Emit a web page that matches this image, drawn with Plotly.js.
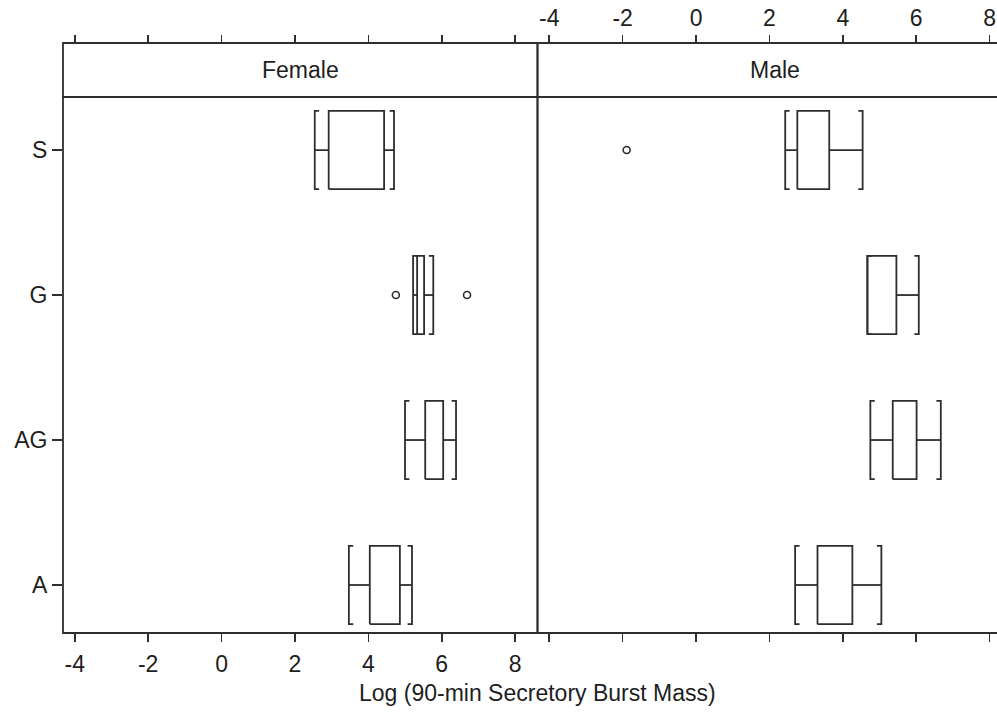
<!DOCTYPE html>
<html>
<head>
<meta charset="utf-8">
<script src="https://cdn.plot.ly/plotly-3.0.1.min.js"></script>
<style>
  html, body { margin: 0; padding: 0; background: #fff; overflow: hidden; }
  #chart { width: 1015px; height: 715px; }
</style>
</head>
<body>
<div id="chart"></div>
<script>
// ---- data ----
var categories = ['A', 'AG', 'G', 'S'];
var tickValues = [-4, -2, 0, 2, 4, 6, 8];

var femaleLow  = [3.47, 5.00, 5.22, 2.54];
var femaleQ1   = [4.04, 5.55, 5.33, 2.92];
var femaleQ3   = [4.86, 6.04, 5.52, 4.43];
var femaleHigh = [5.19, 6.39, 5.77, 4.70];

var maleLow  = [2.70, 4.75, 4.67, 2.43];
var maleQ1   = [3.31, 5.36, 4.67, 2.76];
var maleQ3   = [4.26, 6.01, 5.46, 3.63];
var maleHigh = [5.05, 6.67, 6.07, 4.54];

var femaleOutX   = [4.75, 6.69];
var femaleOutCat = ['G', 'G'];
var maleOutX   = [-1.89];
var maleOutCat = ['S'];

var panelNames = ['Female', 'Male'];
var xTitle = 'Log (90-min Secretory Burst Mass)';

// ---- styling ----
var INK = '#2e2e2e';
var LINE_W = 1.8;
var FONT = {family: 'Liberation Sans, Arial, Helvetica, sans-serif', size: 23, color: '#1e1e1e'};
var HALF = 0.27;   // half box height in category units
var TICKX = 0.12;  // bracket inner tick length in x units
var XRANGE = [-4.32, 8.61];
var YRANGE = [-0.331, 3.366];
var PANEL_TOP = 536 / 590;

function buildPath(lo, q1, q3, hi) {
  var xs = [], ys = [];
  function seg(px, py) { xs.push.apply(xs, px); ys.push.apply(ys, py); xs.push(null); ys.push(null); }
  for (var i = 0; i < categories.length; i++) {
    var c = i, t = c + HALF, b = c - HALF;
    seg([q1[i], q3[i], q3[i], q1[i], q1[i]], [b, b, t, t, b]);
    seg([lo[i], q1[i]], [c, c]);
    seg([q3[i], hi[i]], [c, c]);
    seg([lo[i] + TICKX, lo[i], lo[i], lo[i] + TICKX], [t, t, b, b]);
    seg([hi[i] - TICKX, hi[i], hi[i], hi[i] - TICKX], [t, t, b, b]);
  }
  return {x: xs, y: ys};
}

function catIndex(arr) { return arr.map(function (c) { return categories.indexOf(c); }); }

var fp = buildPath(femaleLow, femaleQ1, femaleQ3, femaleHigh);
var mp = buildPath(maleLow, maleQ1, maleQ3, maleHigh);

var traces = [
  {type: 'scatter', mode: 'lines', x: fp.x, y: fp.y, xaxis: 'x', yaxis: 'y',
   line: {color: INK, width: LINE_W}, connectgaps: false, hoverinfo: 'skip', showlegend: false},
  {type: 'scatter', mode: 'lines', x: mp.x, y: mp.y, xaxis: 'x2', yaxis: 'y',
   line: {color: INK, width: LINE_W}, connectgaps: false, hoverinfo: 'skip', showlegend: false},
  {type: 'scatter', mode: 'markers', x: femaleOutX, y: catIndex(femaleOutCat), xaxis: 'x', yaxis: 'y',
   marker: {symbol: 'circle-open', size: 7, color: INK, line: {width: 1.6}}, showlegend: false},
  {type: 'scatter', mode: 'markers', x: maleOutX, y: catIndex(maleOutCat), xaxis: 'x2', yaxis: 'y',
   marker: {symbol: 'circle-open', size: 7, color: INK, line: {width: 1.6}}, showlegend: false},
  {type: 'scatter', mode: 'markers', x: [0], y: [-5], xaxis: 'x3', yaxis: 'y',
   marker: {opacity: 0}, hoverinfo: 'skip', showlegend: false},
  {type: 'scatter', mode: 'markers', x: [0], y: [-5], xaxis: 'x4', yaxis: 'y',
   marker: {opacity: 0}, hoverinfo: 'skip', showlegend: false}
];

function xAxis(domain, opts) {
  var a = {
    domain: domain, range: XRANGE.slice(), tickmode: 'array', tickvals: tickValues,
    ticktext: tickValues.map(String), ticks: 'outside', ticklen: 8, tickwidth: 1.6, tickcolor: INK,
    showline: false, showgrid: false, zeroline: false, tickfont: FONT, fixedrange: true
  };
  for (var k in opts) a[k] = opts[k];
  return a;
}

var shapes = [];
[[0, 0.5], [0.5, 1]].forEach(function (d) {
  shapes.push({type: 'rect', xref: 'paper', yref: 'paper', x0: d[0], x1: d[1], y0: 0, y1: PANEL_TOP,
               line: {color: INK, width: LINE_W}, fillcolor: 'rgba(0,0,0,0)', layer: 'above'});
  shapes.push({type: 'rect', xref: 'paper', yref: 'paper', x0: d[0], x1: d[1], y0: PANEL_TOP, y1: 1,
               line: {color: INK, width: LINE_W}, fillcolor: 'rgba(0,0,0,0)', layer: 'above'});
});

var annotations = [
  {text: panelNames[0], xref: 'paper', yref: 'paper', x: 0.25, y: (PANEL_TOP + 1) / 2,
   showarrow: false, font: FONT, xanchor: 'center', yanchor: 'middle'},
  {text: panelNames[1], xref: 'paper', yref: 'paper', x: 0.75, y: (PANEL_TOP + 1) / 2,
   showarrow: false, font: FONT, xanchor: 'center', yanchor: 'middle'},
  {text: xTitle, xref: 'paper', yref: 'paper', x: 0.5, y: -0.1017,
   showarrow: false, font: FONT, xanchor: 'center', yanchor: 'middle'}
];

var layout = {
  width: 1015, height: 715,
  margin: {l: 63, r: 3, t: 43, b: 82},
  paper_bgcolor: '#ffffff', plot_bgcolor: '#ffffff',
  showlegend: false,
  xaxis: xAxis([0, 0.5], {anchor: 'y', side: 'bottom', ticklabelstandoff: 2}),
  xaxis2: xAxis([0.5, 1], {anchor: 'y', side: 'bottom', showticklabels: false}),
  xaxis3: xAxis([0, 0.5], {anchor: 'free', position: 1, side: 'top', overlaying: 'x', showticklabels: false}),
  xaxis4: xAxis([0.5, 1], {anchor: 'free', position: 1, side: 'top', overlaying: 'x2', ticklabelstandoff: 0}),
  yaxis: {
    domain: [0, PANEL_TOP], range: YRANGE, tickmode: 'array',
    tickvals: categories.map(function (c, i) { return i; }), ticktext: categories,
    ticks: 'outside', ticklen: 10, tickwidth: 1.6, tickcolor: INK,
    showline: false, showgrid: false, zeroline: false, tickfont: FONT, fixedrange: true,
    ticklabelstandoff: 0
  },
  shapes: shapes,
  annotations: annotations
};

Plotly.newPlot('chart', traces, layout, {displayModeBar: false, staticPlot: true});
</script>
</body>
</html>
